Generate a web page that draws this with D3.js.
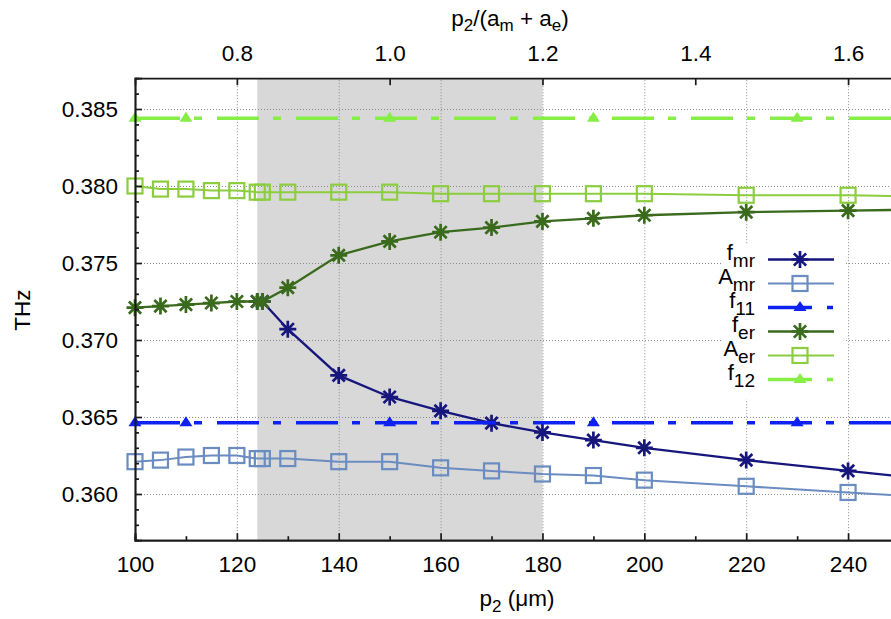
<!DOCTYPE html>
<html>
<head>
<meta charset="utf-8">
<script src="https://cdn.jsdelivr.net/npm/d3@7"></script>
<style>
  body { margin: 0; background: #fff; }
  svg { display: block; font-family: "Liberation Sans", Arial, Helvetica, sans-serif; }
  .tick text { font-size: 22.5px; fill: #000; }
  .grid line { stroke: #8c8c8c; stroke-width: 1; stroke-dasharray: 1,2; }
</style>
</head>
<body>
<div id="chart"></div>
<script>
// p2 in um
var p2 = [100, 105, 110, 115, 120, 124, 125, 130, 140, 150, 160, 170, 180, 190, 200, 220, 240, 260];
var p2Split = [124, 125, 130, 140, 150, 160, 170, 180, 190, 200, 220, 240, 260];

// frequencies, THz
var fmr = [0.3725, 0.3725, 0.3707, 0.3677, 0.3663, 0.3654, 0.3646, 0.3640, 0.3635, 0.3630, 0.3622, 0.3615, 0.3608];
var Amr = [0.3621, 0.3622, 0.3624, 0.3625, 0.3625, 0.3623, 0.3623, 0.3623, 0.3621, 0.3621, 0.3617, 0.3615, 0.3613, 0.3612, 0.3609, 0.3605, 0.3601, 0.3597];
var fer = [0.3721, 0.3722, 0.3723, 0.3724, 0.3725, 0.3725, 0.3725, 0.3734, 0.3755, 0.3764, 0.3770, 0.3773, 0.3777, 0.3779, 0.3781, 0.3783, 0.3784, 0.3785];
var Aer = [0.3800, 0.3798, 0.3798, 0.3797, 0.3797, 0.3796, 0.3796, 0.3796, 0.3796, 0.3796, 0.3795, 0.3795, 0.3795, 0.3795, 0.3795, 0.3794, 0.3794, 0.3793];
var f11 = 0.36463;
var f12 = 0.38440;
var flatX = [100, 260];
var flatMarks = [100, 110, 150, 190, 230];

var shade = [124, 180];
var xTicks = [100, 120, 140, 160, 180, 200, 220, 240];
var xMinor = [110, 130, 150, 170, 190, 210, 230, 250];
var x2Ticks = [0.8, 1.0, 1.2, 1.4, 1.6];
var yTicks = [0.360, 0.365, 0.370, 0.375, 0.380, 0.385];
var yMinor = [0.358, 0.359, 0.361, 0.362, 0.363, 0.364, 0.366, 0.367, 0.368, 0.369, 0.371, 0.372, 0.373, 0.374,
              0.376, 0.377, 0.378, 0.379, 0.381, 0.382, 0.383, 0.384, 0.386];

var W = 891, H = 619;
var pLeft = 135, pRight = 899, pTop = 78.2, pBottom = 540.2;

var x = d3.scaleLinear().domain([100, 250]).range([pLeft, pRight]);
var x2 = d3.scaleLinear().domain([100 / 150, 250 / 150]).range([pLeft, pRight]);
var y = d3.scaleLinear().domain([0.357, 0.387]).range([pBottom, pTop]);

var svg = d3.select("#chart").append("svg")
    .attr("width", W)
    .attr("height", H);

// shaded band
svg.append("rect")
    .attr("x", x(shade[0]))
    .attr("y", pTop)
    .attr("width", x(shade[1]) - x(shade[0]))
    .attr("height", pBottom - pTop)
    .style("fill", "#d8d8d8");

// grid
svg.append("g")
    .attr("class", "grid")
    .attr("transform", "translate(0," + pBottom + ")")
    .call(d3.axisBottom(x).tickValues(xTicks.slice(1)).tickSize(-(pBottom - pTop)).tickFormat(""))
    .call(function(g) { g.select(".domain").remove(); });

svg.append("g")
    .attr("class", "grid")
    .attr("transform", "translate(" + pLeft + ",0)")
    .call(d3.axisLeft(y).tickValues(yTicks).tickSize(-(pRight - pLeft)).tickFormat(""))
    .call(function(g) { g.select(".domain").remove(); });

// series
var series = [
    { name: "f", sub: "mr", xs: p2Split, ys: fmr, color: "#16167c", width: 2.3, marker: "star" },
    { name: "A", sub: "mr", xs: p2, ys: Amr, color: "#6a8cc0", width: 2, marker: "square" },
    { name: "f", sub: "11", flat: f11, color: "#0d22f2", width: 3.4, marker: "tri" },
    { name: "f", sub: "er", xs: p2, ys: fer, color: "#3a6a1c", width: 2.3, marker: "star" },
    { name: "A", sub: "er", xs: p2, ys: Aer, color: "#8ccd3f", width: 2, marker: "square" },
    { name: "f", sub: "12", flat: f12, color: "#86ee44", width: 3.4, marker: "tri" }
];

var line = d3.line().x(function(d) { return x(d[0]); }).y(function(d) { return y(d[1]); });

function drawMarker(g, kind, cx, cy, color) {
    if (kind == "star") {
        var r = 8.5, s = r * 0.72;
        g.append("path")
            .attr("d", "M" + (cx - r) + "," + cy + "H" + (cx + r) +
                       "M" + cx + "," + (cy - r) + "V" + (cy + r) +
                       "M" + (cx - s) + "," + (cy - s) + "L" + (cx + s) + "," + (cy + s) +
                       "M" + (cx - s) + "," + (cy + s) + "L" + (cx + s) + "," + (cy - s))
            .style("stroke", color)
            .style("stroke-width", 2.7)
            .style("fill", "none");
    } else if (kind == "square") {
        g.append("rect")
            .attr("x", cx - 7.5)
            .attr("y", cy - 7.5)
            .attr("width", 15)
            .attr("height", 15)
            .style("stroke", color)
            .style("stroke-width", 2.2)
            .style("fill", "none");
    } else {
        g.append("path")
            .attr("d", "M" + (cx - 6.5) + "," + (cy + 3.5) + "L" + cx + "," + (cy - 6.5) + "L" + (cx + 6.5) + "," + (cy + 3.5) + "Z")
            .style("fill", color);
    }
}

series.forEach(function(s) {
    var g = svg.append("g");
    if (s.flat !== undefined) {
        g.append("path")
            .datum(flatX.map(function(v) { return [v, s.flat]; }))
            .attr("d", line)
            .style("fill", "none")
            .style("stroke", s.color)
            .style("stroke-width", s.width)
            .style("stroke-dasharray", "42,14,8,15")
            .style("stroke-dashoffset", 76);
        flatMarks.forEach(function(v) { drawMarker(g, s.marker, x(v), y(s.flat), s.color); });
    } else {
        var pts = s.xs.map(function(v, i) { return [v, s.ys[i]]; });
        g.append("path")
            .datum(pts)
            .attr("d", line)
            .style("fill", "none")
            .style("stroke", s.color)
            .style("stroke-width", s.width);
        pts.forEach(function(p) { drawMarker(g, s.marker, x(p[0]), y(p[1]), s.color); });
    }
});

// legend (opaque key)
svg.append("rect")
    .attr("x", 722)
    .attr("y", 245)
    .attr("width", 124)
    .attr("height", 154)
    .style("fill", "#fff");

series.forEach(function(s, i) {
    var ly = 259.5 + i * 24;
    var g = svg.append("g");
    g.append("line")
        .attr("x1", 768).attr("x2", 834)
        .attr("y1", ly).attr("y2", ly)
        .style("stroke", s.color)
        .style("stroke-width", s.width)
        .style("stroke-dasharray", s.flat !== undefined ? "44,15,6,15" : null);
    drawMarker(g, s.marker, 800, ly, s.color);
    var t = g.append("text")
        .attr("x", 755)
        .attr("y", ly)
        .attr("text-anchor", "end")
        .style("font-size", "22px");
    t.append("tspan").text(s.name);
    t.append("tspan").attr("dy", 7).style("font-size", "19px").text(s.sub);
});

// axes
svg.append("g")
    .attr("transform", "translate(0," + pBottom + ")")
    .call(d3.axisBottom(x).tickValues(xTicks).tickSize(-7).tickPadding(16).tickFormat(d3.format("d")));
svg.append("g")
    .attr("transform", "translate(0," + pBottom + ")")
    .call(d3.axisBottom(x).tickValues(xMinor).tickSize(-4).tickFormat(""));

svg.append("g")
    .attr("transform", "translate(" + pLeft + ",0)")
    .call(d3.axisLeft(y).tickValues(yTicks).tickSize(-7).tickPadding(17).tickFormat(d3.format(".3f")));
svg.append("g")
    .attr("transform", "translate(" + pLeft + ",0)")
    .call(d3.axisLeft(y).tickValues(yMinor).tickSize(-4).tickFormat(""));

svg.append("g")
    .attr("transform", "translate(0," + pTop + ")")
    .call(d3.axisTop(x2).tickValues(x2Ticks).tickSize(-7).tickPadding(17).tickFormat(d3.format(".1f")));

svg.selectAll(".domain, .tick line").style("stroke", "#1a1a1a").style("stroke-width", 1.7);
svg.selectAll(".grid .tick line").style("stroke", "#8c8c8c").style("stroke-width", 1);
svg.selectAll(".tick text").style("font-family", "'Liberation Sans', Arial, sans-serif");

// axis titles
var xt = svg.append("text")
    .attr("x", 517)
    .attr("y", 606)
    .attr("text-anchor", "middle")
    .style("font-size", "22.5px");
xt.append("tspan").text("p");
xt.append("tspan").attr("dy", 6).style("font-size", "17px").text("2");
xt.append("tspan").attr("dy", -6).text(" (\u03bcm)");

var x2t = svg.append("text")
    .attr("x", 510)
    .attr("y", 26)
    .attr("text-anchor", "middle")
    .style("font-size", "22.5px");
x2t.append("tspan").text("p");
x2t.append("tspan").attr("dy", 5).style("font-size", "17px").text("2");
x2t.append("tspan").attr("dy", -5).text("/(a");
x2t.append("tspan").attr("dy", 5).style("font-size", "17px").text("m");
x2t.append("tspan").attr("dy", -5).text(" + a");
x2t.append("tspan").attr("dy", 5).style("font-size", "17px").text("e");
x2t.append("tspan").attr("dy", -5).text(")");

svg.append("text")
    .attr("transform", "translate(30,310) rotate(-90)")
    .attr("text-anchor", "middle")
    .style("font-size", "22.5px")
    .text("THz");
</script>
</body>
</html>
